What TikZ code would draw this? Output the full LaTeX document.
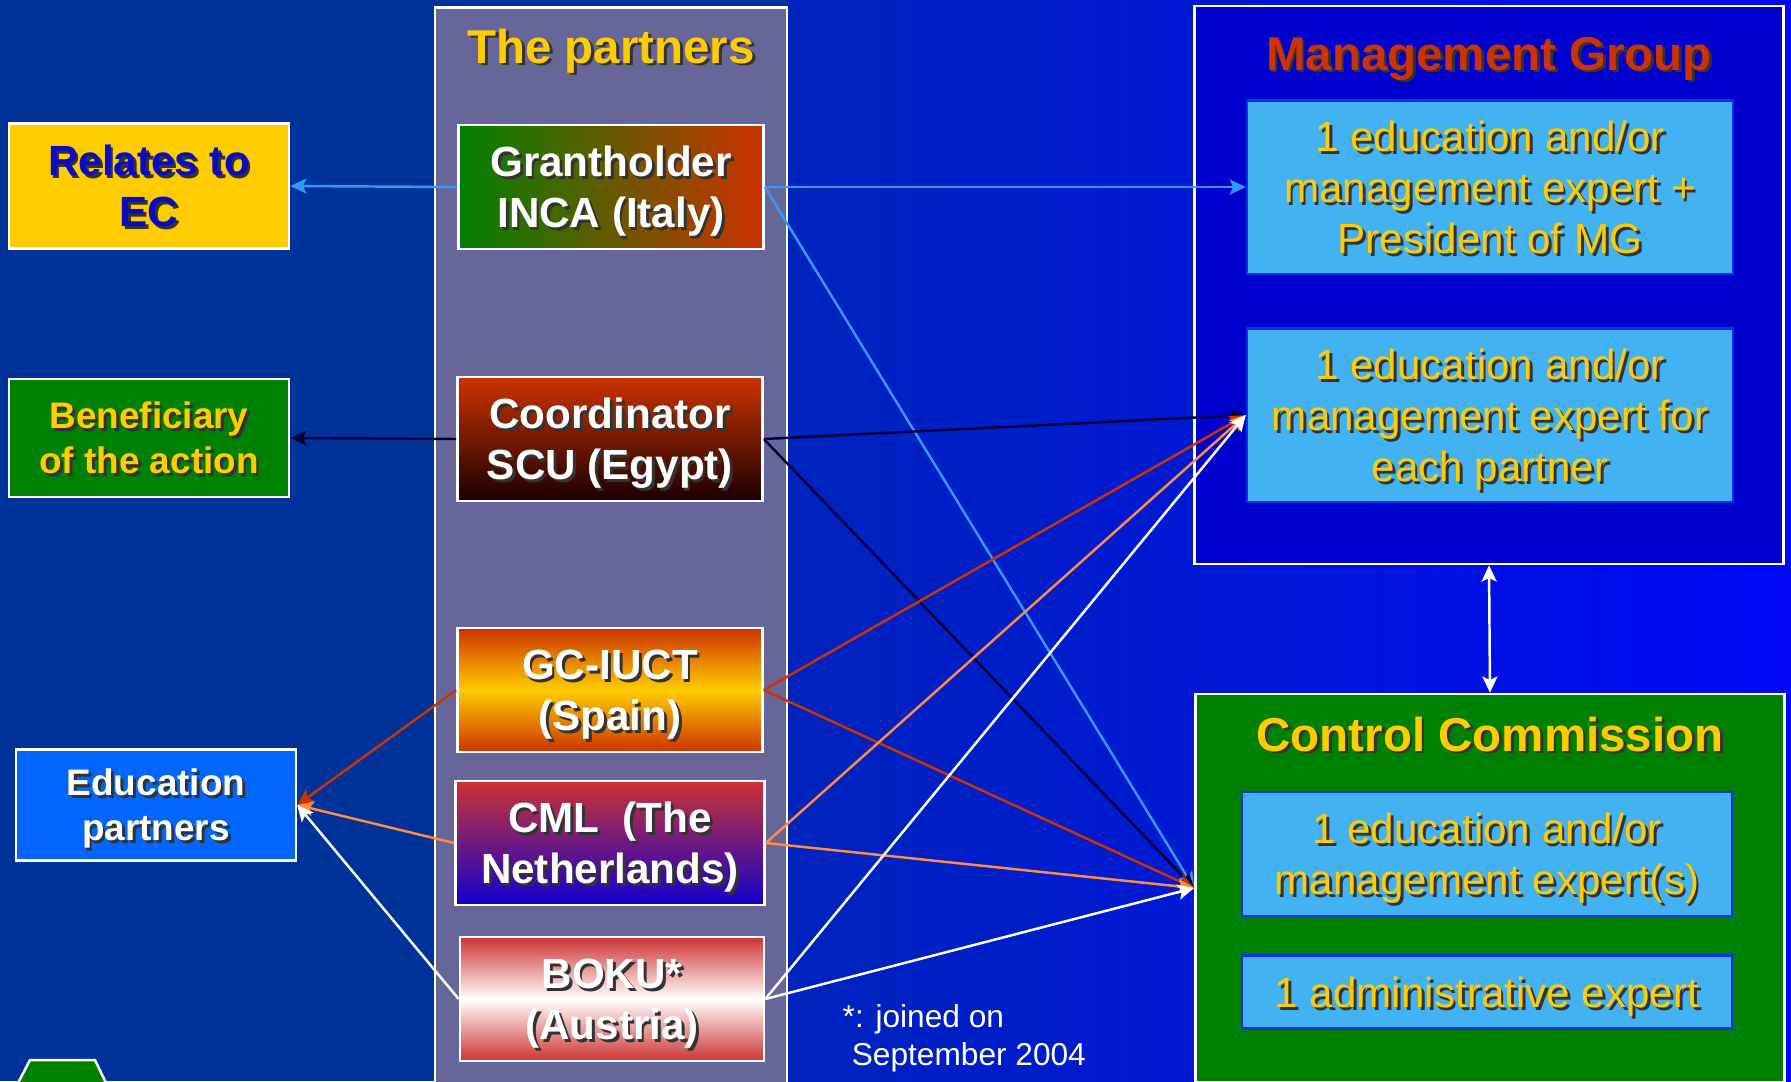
\documentclass[tikz,border=0pt]{standalone}
\usepackage{fontspec}
\setmainfont{Liberation Sans}
\usetikzlibrary{arrows.meta}

\definecolor{bgleft}{HTML}{003399}
\definecolor{bgmid}{HTML}{0024BC}
\definecolor{bgright}{HTML}{0008F6}
\definecolor{colfill}{HTML}{666699}
\definecolor{gold}{HTML}{FFCC00}
\definecolor{redor}{HTML}{CC3300}
\definecolor{grgreen}{HTML}{008000}
\definecolor{scubot}{HTML}{1A0000}
\definecolor{cmltop}{HTML}{CC3333}
\definecolor{cmlbot}{HTML}{1100CC}
\definecolor{ecblue}{HTML}{0A0AC8}
\definecolor{edublue}{HTML}{0066FF}
\definecolor{mgfill}{HTML}{0000CC}
\definecolor{expfill}{HTML}{42B2F2}
\definecolor{expborder}{HTML}{1030E8}
\definecolor{lineblue}{HTML}{3399FF}
\definecolor{linenavy}{HTML}{000040}
\definecolor{lineorange}{HTML}{FF8C40}

% text with a dark drop shadow
\newcommand\shad[1]{\leavevmode\rlap{\kern0.8pt\raisebox{-0.8pt}{\color{black!80}#1}}#1}

\tikzset{
  plainbox/.style={draw=white, line width=0.7pt, align=center, inner sep=0pt},
  ptbox/.style={plainbox, minimum width=3.05cm, minimum height=1.24cm, text=white, text depth=0pt,
    font=\fontsize{12}{14.5}\selectfont\bfseries},
  sidebox/.style={plainbox, minimum width=2.8cm, text depth=0pt, font=\fontsize{12}{14.5}\selectfont\bfseries},
  expbox/.style={draw=expborder, line width=0.6pt, fill=expfill, text=gold, align=center,
    inner sep=0pt, text depth=0pt, minimum width=4.86cm, font=\fontsize{12}{14.5}\selectfont},
  headline/.style={anchor=base, inner sep=0pt, font=\fontsize{13.5}{16}\selectfont\bfseries},
  link/.style={->, line width=0.7pt}
}

\begin{document}
\begin{tikzpicture}[x=0.01cm, y=-0.01cm, >={Stealth[length=4.6pt,width=4.3pt,inset=1pt]}]
    \useasboundingbox (0,0) rectangle (1791,1081);
    \fill [bgleft] (0,0) rectangle (1791,1081);
    \fill [left color=bgmid, right color=bgright] (787,0) rectangle (1791,1081);

    % the partners
    \node [plainbox, fill=colfill, minimum width=3.52cm, minimum height=10.82cm] (col) at (611,549) {};
    \node [headline, text=gold] (ptitle) at (611,63) {\shad{The partners}};
    \node [ptbox, left color=grgreen, right color=redor] (inca) at (611,187) {\shad{Grantholder}\\\shad{INCA (Italy)}};
    \node [ptbox, top color=redor, bottom color=scubot] (scu) at (610,439) {\shad{Coordinator}\\\shad{SCU (Egypt)}};
    \node [ptbox, top color=redor, bottom color=redor, middle color=gold] (gc) at (610,690) {\shad{GC-IUCT}\\\shad{(Spain)}};
    \node [ptbox, minimum width=3.09cm, top color=cmltop, bottom color=cmlbot] (cml) at (610,843) {\shad{CML\ \ (The}\\\shad{Netherlands)}};
    \node [ptbox, minimum width=3.04cm, top color=cmltop, bottom color=cmltop, middle color=white] (boku) at (612,999) {\shad{BOKU*}\\\shad{(Austria)}};

    % left side
    \node [sidebox, fill=gold, text=ecblue, minimum height=1.25cm] (ec) at (149,186) {\shad{Relates to}\\\shad{EC}};
    \node [sidebox, fill=grgreen, text=gold, minimum height=1.18cm, font=\fontsize{10.5}{12.8}\selectfont\bfseries] (benef) at (149,438) {\shad{Beneficiary}\\\shad{of the action}};
    \node [sidebox, fill=edublue, text=white, minimum height=1.11cm, font=\fontsize{10.5}{12.8}\selectfont\bfseries] (edu) at (156,805) {\shad{Education}\\\shad{partners}};
    \draw [white, fill=grgreen, line width=0.7pt] (17,1085) -- (30,1060) -- (95,1060) -- (107,1085);

    % management group
    \node [plainbox, fill=mgfill, minimum width=5.89cm, minimum height=5.58cm] (mg) at (1489,285) {};
    \node [headline, text=redor] (mgtitle) at (1489,70) {\shad{Management Group}};
    \node [expbox, minimum height=1.73cm] (mgone) at (1490,187) {\shad{1 education and/or}\\\shad{management expert +}\\\shad{President of MG}};
    \node [expbox, minimum height=1.73cm] (mgtwo) at (1490,415) {\shad{1 education and/or}\\\shad{management expert for}\\\shad{each partner}};

    % control commission
    \node [plainbox, fill=grgreen, minimum width=5.89cm, minimum height=3.88cm] (cc) at (1490,888) {};
    \node [headline, text=gold] (cctitle) at (1490,751) {\shad{Control Commission}};
    \node [expbox, minimum width=4.89cm, minimum height=1.24cm] (ccone) at (1487,854) {\shad{1 education and/or}\\\shad{management expert(s)}};
    \node [expbox, minimum width=4.89cm, minimum height=0.73cm] (cctwo) at (1487,992) {\shad{1 administrative expert}};

    \node [anchor=base west, align=left, text=white, inner sep=0pt, font=\fontsize{9}{10.8}\selectfont] (note) at (842,1065) {*: joined on\\\hspace*{2.6pt}September 2004};

    % links
    \draw [link, lineblue] (inca.west) -- (ec.east);
    \draw [link, lineblue] (inca.east) -- (mgone.west);
    \draw [link, lineblue] (inca.east) -- (cc.west);
    \draw [link, linenavy] (scu.west) -- (benef.east);
    \draw [link, linenavy] (scu.east) -- (mgtwo.west);
    \draw [link, linenavy] (scu.east) -- (cc.west);
    \draw [link, redor] (gc.west) -- (edu.east);
    \draw [link, redor] (gc.east) -- (mgtwo.west);
    \draw [link, redor] (gc.east) -- (cc.west);
    \draw [link, lineorange] (cml.west) -- (edu.east);
    \draw [link, lineorange] (cml.east) -- (mgtwo.west);
    \draw [link, lineorange] (cml.east) -- (cc.west);
    \draw [link, white] (boku.west) -- (edu.east);
    \draw [link, white] (boku.east) -- (mgtwo.west);
    \draw [link, white] (boku.east) -- (cc.west);
    \draw [link, white, <->] (mg.south) -- (cc.north);
\end{tikzpicture}
\end{document}
